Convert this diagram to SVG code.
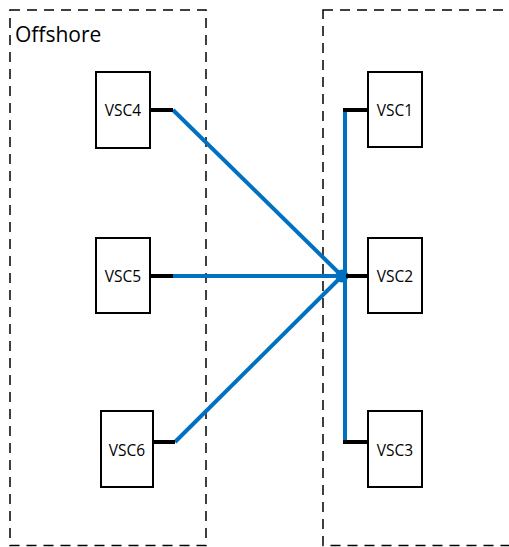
<svg xmlns="http://www.w3.org/2000/svg" width="509" height="547" viewBox="0 0 509 547">
<style>
.zone{fill:none;stroke:#000;stroke-width:1.5;stroke-dasharray:10 7}
.box{fill:#fff;stroke:#000;stroke-width:2}
.lbl{font-family:"Open Sans","Liberation Sans",sans-serif;font-size:15.5px;fill:#000;text-anchor:middle}
.stub{stroke:#000;stroke-width:4;fill:none}
.bus{stroke:#0070C0;stroke-width:4;fill:none;stroke-linejoin:round}
</style>
<rect width="509" height="547" fill="#fff"/>
<g id="zone-offshore">
<rect class="zone" x="10" y="10" width="196" height="535.5"/>
<text x="15" y="42" font-family="'Open Sans','Liberation Sans',sans-serif" font-size="21">Offshore</text>
</g>
<g id="zone-onshore">
<rect class="zone" x="323" y="10" width="200" height="535.5"/>
</g>
<g id="connectors">
<polyline class="bus" points="173,110 342,276"/>
<polyline class="bus" points="173,276 342,276"/>
<polyline class="bus" points="175,442 342,276"/>
<polyline class="bus" points="345,110 345,442"/>
<circle cx="342" cy="276" r="6.5" fill="#0070C0"/>
<line class="stub" x1="150" y1="110" x2="173" y2="110"/>
<line class="stub" x1="150" y1="276" x2="173" y2="276"/>
<line class="stub" x1="153" y1="442" x2="175" y2="442"/>
<line class="stub" x1="343" y1="110" x2="368" y2="110"/>
<line class="stub" x1="346" y1="276" x2="368" y2="276"/>
<line class="stub" x1="343" y1="442" x2="368" y2="442"/>
</g>
<g id="VSC4"><rect class="box" x="96" y="72" width="54" height="76"/><text class="lbl" x="123" y="116">VSC4</text></g>
<g id="VSC5"><rect class="box" x="96" y="238" width="54" height="75"/><text class="lbl" x="123" y="282">VSC5</text></g>
<g id="VSC6"><rect class="box" x="101" y="411" width="52" height="76"/><text class="lbl" x="127" y="456">VSC6</text></g>
<g id="VSC1"><rect class="box" x="368" y="72" width="54" height="75"/><text class="lbl" x="395" y="116">VSC1</text></g>
<g id="VSC2"><rect class="box" x="368" y="238" width="54" height="75"/><text class="lbl" x="395" y="282">VSC2</text></g>
<g id="VSC3"><rect class="box" x="368" y="411" width="54" height="76"/><text class="lbl" x="395" y="456">VSC3</text></g>
</svg>
